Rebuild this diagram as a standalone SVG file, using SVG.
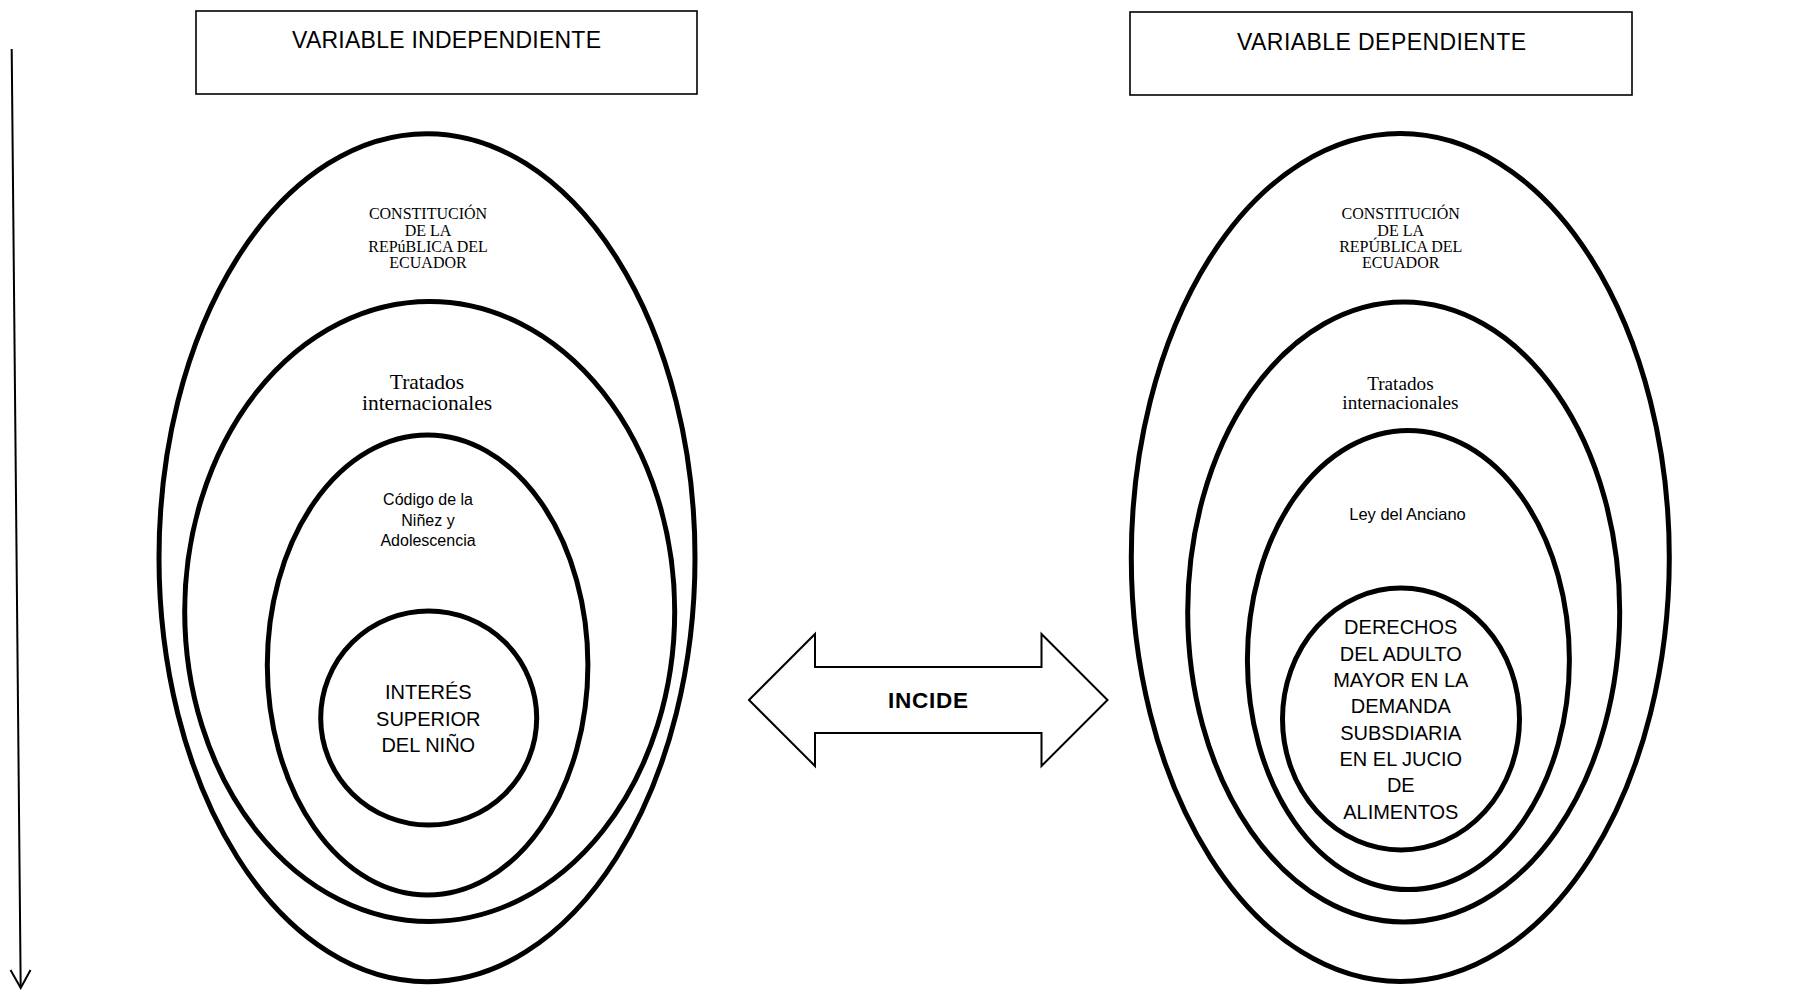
<svg xmlns="http://www.w3.org/2000/svg" width="1793" height="1000" viewBox="0 0 1793 1000">
<style>
.bg{fill:#ffffff}
.box{fill:#ffffff;stroke:#000;stroke-width:1.6}
.ell{fill:none;stroke:#000;stroke-width:5}
.hdr{font-family:"Liberation Sans",Arial,sans-serif;font-size:23px;fill:#000;text-anchor:middle}
.ser{font-family:"Liberation Serif","Times New Roman",serif;fill:#000;text-anchor:middle}
.san{font-family:"Liberation Sans",Arial,sans-serif;fill:#000;text-anchor:middle}
.conn{fill:none;stroke:#000;stroke-width:2}
</style>
<defs>
<marker id="vhead" markerWidth="24" markerHeight="24" refX="20" refY="11" orient="auto" markerUnits="userSpaceOnUse">
<path d="M2,1 L20,11 L2,21" fill="none" stroke="#000" stroke-width="2"/>
</marker>
</defs>
<rect class="bg" x="0" y="0" width="1793" height="1000"/>

<g id="header-independiente">
<rect class="box" x="196" y="11" width="501" height="83"/>
<text class="hdr" x="446.5" y="48" textLength="309" lengthAdjust="spacing">VARIABLE INDEPENDIENTE</text>
</g>
<g id="header-dependiente">
<rect class="box" x="1130" y="12" width="502" height="83"/>
<text class="hdr" x="1381.5" y="50" textLength="289" lengthAdjust="spacing">VARIABLE DEPENDIENTE</text>
</g>

<g id="left-constitucion">
<ellipse class="ell" cx="427" cy="557.7" rx="268" ry="424"/>
<text class="ser" font-size="16" x="428" y="219">CONSTITUCIÓN</text>
<text class="ser" font-size="16" x="428" y="235.5">DE LA</text>
<text class="ser" font-size="16" x="428" y="252">REPúBLICA DEL</text>
<text class="ser" font-size="16" x="428" y="268">ECUADOR</text>
</g>
<g id="left-tratados">
<ellipse class="ell" cx="429.7" cy="611.5" rx="245" ry="310"/>
<text class="ser" font-size="21.5" x="427" y="388.5">Tratados</text>
<text class="ser" font-size="21.5" x="427" y="410">internacionales</text>
</g>
<g id="left-codigo">
<ellipse class="ell" cx="427.6" cy="665" rx="160.3" ry="230"/>
<text class="san" font-size="16" x="428" y="505">Código de la</text>
<text class="san" font-size="16" x="428" y="525.5">Niñez y</text>
<text class="san" font-size="16" x="428" y="546">Adolescencia</text>
</g>
<g id="left-interes">
<ellipse class="ell" cx="428.7" cy="718" rx="108" ry="107"/>
<text class="san" font-size="20" x="428.3" y="699">INTERÉS</text>
<text class="san" font-size="20" x="428.3" y="725.5">SUPERIOR</text>
<text class="san" font-size="20" x="428.3" y="751.5">DEL NIÑO</text>
</g>

<g id="right-constitucion">
<ellipse class="ell" cx="1400.3" cy="557.5" rx="269" ry="424"/>
<text class="ser" font-size="16" x="1400.7" y="219">CONSTITUCIÓN</text>
<text class="ser" font-size="16" x="1400.7" y="235.5">DE LA</text>
<text class="ser" font-size="16" x="1400.7" y="252">REPÚBLICA DEL</text>
<text class="ser" font-size="16" x="1400.7" y="268">ECUADOR</text>
</g>
<g id="right-tratados">
<ellipse class="ell" cx="1403.7" cy="612" rx="216" ry="310"/>
<text class="ser" font-size="19.2" x="1400.4" y="390">Tratados</text>
<text class="ser" font-size="19.2" x="1400.4" y="409">internacionales</text>
</g>
<g id="right-ley">
<ellipse class="ell" cx="1408.4" cy="660" rx="161" ry="229.6"/>
<text class="san" font-size="16.5" x="1407.5" y="520">Ley del Anciano</text>
</g>
<g id="right-derechos">
<ellipse class="ell" cx="1401" cy="719" rx="118.5" ry="131"/>
<text class="san" font-size="20" x="1400.8" y="634">DERECHOS</text>
<text class="san" font-size="20" x="1400.8" y="660.5">DEL ADULTO</text>
<text class="san" font-size="20" x="1400.8" y="687">MAYOR EN LA</text>
<text class="san" font-size="20" x="1400.8" y="713.3">DEMANDA</text>
<text class="san" font-size="20" x="1400.8" y="739.7">SUBSDIARIA</text>
<text class="san" font-size="20" x="1400.8" y="766">EN EL JUCIO</text>
<text class="san" font-size="20" x="1400.8" y="792.4">DE</text>
<text class="san" font-size="20" x="1400.8" y="818.7">ALIMENTOS</text>
</g>

<g id="connectors">
<g id="incide">
<path d="M749,700 L815,634 L815,667 L1041.5,667 L1041.5,634 L1107.5,700 L1041.5,766 L1041.5,733 L815,733 L815,766 Z" fill="#fff" stroke="#000" stroke-width="2" stroke-linejoin="miter"/>
<text class="san" font-size="22.5" font-weight="bold" x="928" y="707.5" textLength="80" lengthAdjust="spacing">INCIDE</text>
</g>
<line class="conn" x1="11.7" y1="49" x2="20.7" y2="988" marker-end="url(#vhead)"/>
</g>
</svg>
